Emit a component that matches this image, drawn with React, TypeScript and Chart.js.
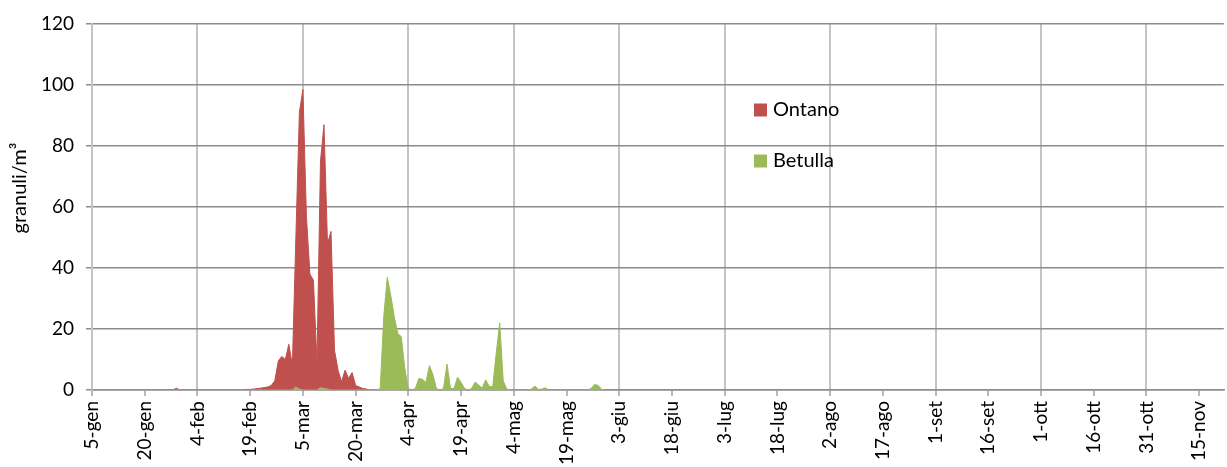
import React, { useEffect, useRef } from "react";
import { Chart, registerables } from "chart.js";

Chart.register(...registerables);

// ---- data (daily values, index 0 = 5-gen) ----
const tickLabels = [
  "5-gen", "20-gen", "4-feb", "19-feb", "5-mar", "20-mar", "4-apr", "19-apr",
  "4-mag", "19-mag", "3-giu", "18-giu", "3-lug", "18-lug", "2-ago", "17-ago",
  "1-set", "16-set", "1-ott", "16-ott", "31-ott", "15-nov",
];
const tickStepDays = 15;
const lastDay = 322;

const seriesNames = ["Ontano", "Betulla"];
const seriesColors = ["#C0504D", "#9BBB59"];
const yAxisTitle = "granuli/m³";
const yMin = 0;
const yMax = 120;
const yStep = 20;

const ontano = [
  0, 0, 0, 0, 0, 0, 0, 0, 0, 0,
  0, 0, 0, 0, 0, 0, 0, 0, 0, 0,
  0, 0, 0, 0, 0.6, 0, 0, 0, 0, 0,
  0, 0, 0, 0, 0, 0, 0, 0, 0, 0,
  0, 0, 0, 0, 0.2, 0.2, 0.3, 0.5, 0.6, 0.8,
  1, 1.5, 3, 9.5, 11, 10, 15, 8, 50, 91,
  98.5, 57, 38, 36, 9, 75, 87, 48, 52, 13,
  6.5, 2.7, 6.5, 3.8, 5.7, 1.5, 1, 0.5, 0.3, 0,
];

const betulla = [
  0, 0, 0, 0, 0, 0, 0, 0, 0, 0,
  0, 0, 0, 0, 0, 0, 0, 0, 0, 0,
  0, 0, 0, 0, 0, 0, 0, 0, 0, 0,
  0, 0, 0, 0, 0, 0, 0, 0, 0, 0,
  0, 0, 0, 0, 0, 0, 0, 0, 0, 0,
  0, 0, 0, 0, 0, 0, 0, 0, 1, 0.3,
  0, 0, 0, 0, 0, 0.8, 0.5, 0.3, 0, 0,
  0, 0, 0, 0, 0, 0, 0, 0, 0, 0,
  0, 0, 0.5, 24, 37, 31, 24, 18.5, 17.5, 7,
  0.5, 0, 0.5, 3.8, 3.5, 2.5, 8, 5, 0.5, 0,
  0.5, 8.5, 0.5, 0.5, 4.2, 2.5, 0.5, 0, 0.5, 2.6,
  1.6, 0.6, 3.3, 1.2, 1, 12, 22, 3, 0.3, 0,
  0, 0, 0, 0, 0, 0.3, 1.3, 0.2, 0.3, 0.7,
  0, 0, 0, 0, 0, 0, 0, 0, 0, 0,
  0, 0, 0.5, 1.8, 1.5, 0.2, 0,
];

const FONT = "Lato";

export default function App() {
  const canvasRef = useRef<HTMLCanvasElement | null>(null);

  useEffect(() => {
    const canvas = canvasRef.current;
    if (!canvas) return;

    const overlayPlugin = {
      id: "overlay",
      afterDraw(chart: any) {
        const ctx = chart.ctx;
        ctx.save();
        // legend
        ctx.font = `20px ${FONT}`;
        ctx.textBaseline = "middle";
        ctx.textAlign = "left";
        const legendX = 754;
        const legendYs = [110, 161];
        const box = 13;
        seriesNames.forEach((name, i) => {
          ctx.fillStyle = seriesColors[i];
          ctx.fillRect(legendX, legendYs[i] - box / 2, box, box);
          ctx.fillStyle = "#000";
          ctx.fillText(name, legendX + box + 6, legendYs[i]);
        });
        // y axis title
        ctx.translate(20, 188);
        ctx.rotate(-Math.PI / 2);
        ctx.textAlign = "center";
        ctx.font = `20px ${FONT}`;
        ctx.fillText(yAxisTitle, 0, 0);
        ctx.restore();
      },
    };

    const makeSeries = (vals: number[]) => vals.map((y, i) => ({ x: i, y }));

    const chart = new Chart(canvas, {
      type: "line",
      data: {
        datasets: [
          {
            label: seriesNames[0],
            data: makeSeries(ontano),
            backgroundColor: seriesColors[0],
            borderColor: seriesColors[0],
            borderWidth: 1,
            fill: "origin",
            pointRadius: 0,
            tension: 0,
            order: 1,
          },
          {
            label: seriesNames[1],
            data: makeSeries(betulla),
            backgroundColor: seriesColors[1],
            borderColor: seriesColors[1],
            borderWidth: 1,
            fill: "origin",
            pointRadius: 0,
            tension: 0,
            order: 0,
          },
        ],
      },
      options: {
        responsive: false,
        animation: false,
        layout: { padding: { top: 24, right: 0, left: 0, bottom: 0 } },
        plugins: {
          legend: { display: false },
          tooltip: { enabled: false },
        },
        scales: {
          x: {
            type: "linear",
            min: 0,
            max: lastDay,
            afterBuildTicks: (axis: any) => {
              axis.ticks = tickLabels.map((_, i) => ({ value: i * tickStepDays }));
            },
            afterFit: (axis: any) => {
              axis.height = 77;
            },
            ticks: {
              autoSkip: false,
              maxRotation: 90,
              minRotation: 90,
              padding: 5,
              color: "#000",
              font: { family: FONT, size: 19 },
              callback: (v: any) => tickLabels[Math.round(Number(v) / tickStepDays)],
            },
            grid: {
              color: (c: any) => (c.index % 2 === 0 ? "#C4C4C4" : "rgba(0,0,0,0)"),
              lineWidth: 2,
              tickColor: "#A0A0A0",
              tickWidth: 1.5,
              tickLength: 6,
            },
            border: { color: "#8C8C8C", width: 1.5 },
          },
          y: {
            min: yMin,
            max: yMax,
            afterFit: (axis: any) => {
              axis.width = 92;
            },
            ticks: {
              stepSize: yStep,
              padding: 12,
              color: "#000",
              font: { family: FONT, size: 19 },
            },
            grid: { color: "#8C8C8C", lineWidth: 1.5, tickLength: 6 },
            border: { color: "#C4C4C4", width: 2 },
          },
        },
      },
      plugins: [overlayPlugin],
    } as any);

    return () => chart.destroy();
  }, []);

  return (
    <div style={{ position: "fixed", left: 0, top: 0, width: 1227, height: 467, background: "#fff" }}>
      <canvas ref={canvasRef} width={1227} height={467} />
    </div>
  );
}
